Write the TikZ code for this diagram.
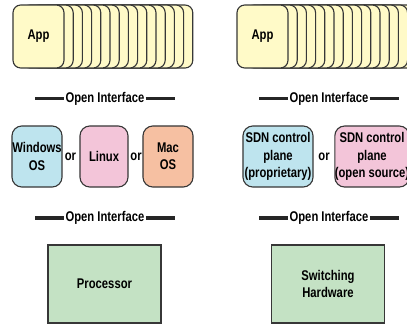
\documentclass[tikz,border=0pt]{standalone}
\usepackage{fontspec}
\setsansfont{Liberation Sans}[FakeStretch=0.8]
\usetikzlibrary{positioning}
\definecolor{appyellow}{RGB}{255,250,200}
\definecolor{osblue}{RGB}{190,228,238}
\definecolor{ospink}{RGB}{243,197,217}
\definecolor{osorange}{RGB}{246,192,162}
\definecolor{hwgreen}{RGB}{196,226,196}
\definecolor{edgegray}{RGB}{55,55,55}
\tikzset{
  labelfont/.style={
    font=\sffamily\bfseries\fontsize{10}{12.4}\selectfont
  },
  appcard/.style={
    draw=edgegray,
    fill=appyellow,
    line width=0.8pt,
    rounded corners=5.5pt,
    minimum width=1.275cm,
    minimum height=1.575cm,
    inner sep=0pt,
    labelfont
  },
  osbox/.style={
    draw=edgegray,
    line width=0.8pt,
    rounded corners=7pt,
    align=center,
    minimum width=1.25cm,
    minimum height=1.525cm,
    inner sep=0pt,
    labelfont
  },
  hwbox/.style={
    draw=edgegray,
    fill=hwgreen,
    line width=0.8pt,
    align=center,
    minimum width=2.825cm,
    minimum height=1.95cm,
    inner sep=0pt,
    labelfont
  },
  ortext/.style={
    inner sep=0pt,
    labelfont
  },
  iftext/.style={
    inner xsep=0.6pt,
    inner ysep=0pt,
    labelfont
  },
  ifline/.style={
    line width=2.4pt,
    draw=black!85
  }
}

\begin{document}
\begin{tikzpicture}[x=0.025cm,y=-0.025cm]
  \clip (0,0) rectangle (407,324);

  % application stacks
  \foreach \k in {14,...,1}{
    \node[appcard] (appL\k) at (38.5+9.2*\k,36.5) {};
    \node[appcard] (appR\k) at (262.5+9.2*\k,36.5) {};
  }
  \node[appcard] (appL) at (38.5,36.5) {App};
  \node[appcard] (appR) at (262.5,36.5) {App};

  % upper open interfaces
  \node[iftext] (ifUL) at (105,98.5) {Open Interface};
  \node[iftext] (ifUR) at (329,98.5) {Open Interface};
  \coordinate (ifUL-a) at (35,98.5);
  \coordinate (ifUL-b) at (175,98.5);
  \coordinate (ifUR-a) at (259,98.5);
  \coordinate (ifUR-b) at (399,98.5);
  \draw[ifline] (ifUL-a) -- (ifUL.west);
  \draw[ifline] (ifUL.east) -- (ifUL-b);
  \draw[ifline] (ifUR-a) -- (ifUR.west);
  \draw[ifline] (ifUR.east) -- (ifUR-b);

  % operating systems / control planes
  \node[osbox, fill=osblue] (windows) at (37,156.5) {Windows\\OS};
  \node[osbox, fill=ospink, minimum width=1.2cm] (linux) at (104,156.5) {Linux};
  \node[osbox, fill=osorange] (mac) at (168,156.5) {Mac\\OS};
  \node[ortext] (or1) at (70.5,156.5) {or};
  \node[ortext] (or2) at (136,156.5) {or};
  \node[osbox, fill=osblue, minimum width=1.75cm] (sdnprop) at (278,156.5)
    {SDN control\\plane\\(proprietary)};
  \node[ortext] (or3) at (324,156.5) {or};
  \node[osbox, fill=ospink, minimum width=1.75cm] (sdnopen) at (372,156.5)
    {SDN control\\plane\\(open source)};

  % lower open interfaces
  \node[iftext] (ifLL) at (105,218) {Open Interface};
  \node[iftext] (ifLR) at (329,218) {Open Interface};
  \coordinate (ifLL-a) at (35,218);
  \coordinate (ifLL-b) at (175,218);
  \coordinate (ifLR-a) at (259,218);
  \coordinate (ifLR-b) at (399,218);
  \draw[ifline] (ifLL-a) -- (ifLL.west);
  \draw[ifline] (ifLL.east) -- (ifLL-b);
  \draw[ifline] (ifLR-a) -- (ifLR.west);
  \draw[ifline] (ifLR.east) -- (ifLR-b);

  % hardware
  \node[hwbox] (processor) at (104.5,284) {Processor};
  \node[hwbox] (switching) at (328,284) {Switching\\Hardware};
\end{tikzpicture}
\end{document}
